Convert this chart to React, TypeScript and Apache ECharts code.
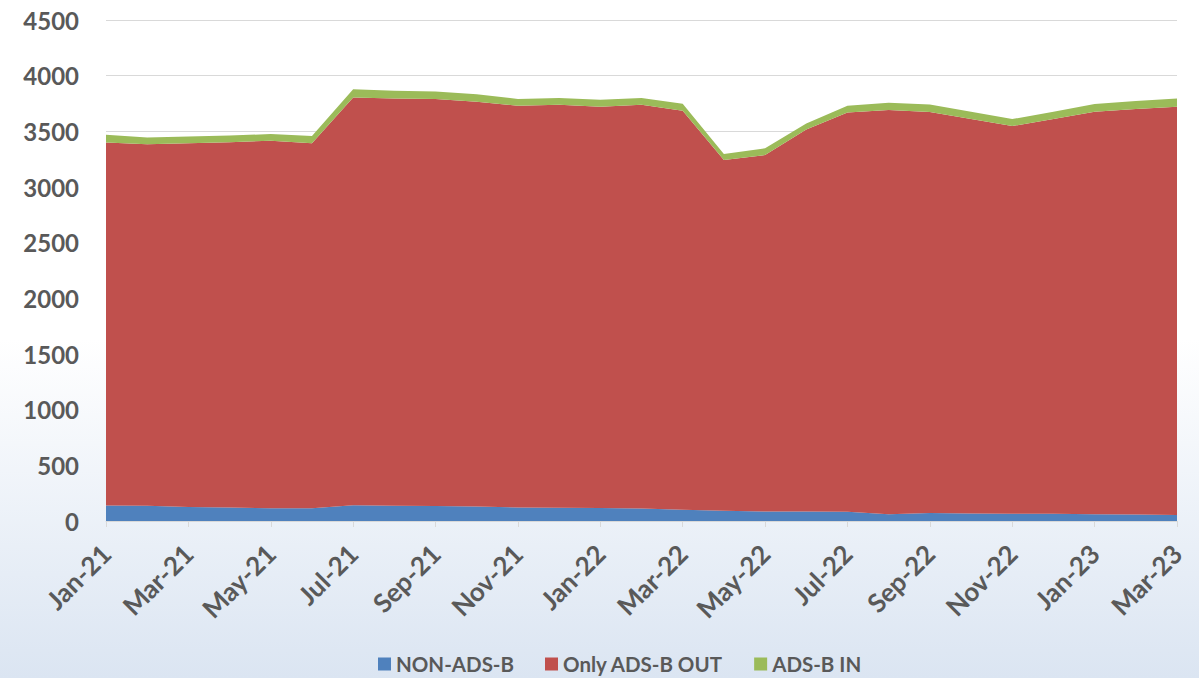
import React, { useEffect, useRef } from "react";
import * as echarts from "echarts";

const months = [
  "Jan-21","Feb-21","Mar-21","Apr-21","May-21","Jun-21","Jul-21","Aug-21","Sep-21","Oct-21","Nov-21","Dec-21",
  "Jan-22","Feb-22","Mar-22","Apr-22","May-22","Jun-22","Jul-22","Aug-22","Sep-22","Oct-22","Nov-22","Dec-22",
  "Jan-23","Feb-23","Mar-23",
];
const nonAdsb = [140,138,125,122,115,115,142,138,135,130,122,118,116,112,100,92,85,85,82,60,72,68,66,65,60,58,55];
const onlyOut = [3260,3245,3267,3281,3300,3277,3663,3658,3655,3635,3608,3621,3605,3627,3585,3150,3202,3432,3588,3631,3601,3542,3481,3545,3616,3642,3666];
const adsbIn = [69,62,62,60,60,65,72,68,68,69,60,60,63,60,63,54,60,54,60,66,69,66,63,66,69,72,75];

const FONT = "Lato, 'Open Sans', sans-serif";

export default function App() {
  const ref = useRef<HTMLDivElement>(null);
  useEffect(() => {
    if (!ref.current) return;
    const chart = echarts.init(ref.current, undefined, { renderer: "svg" });
    const mk = (name: string, data: number[], color: string) => ({
      name,
      type: "line",
      stack: "total",
      data,
      symbol: "none",
      lineStyle: { width: 0 },
      areaStyle: { color, opacity: 1 },
      itemStyle: { color },
    });
    chart.setOption({
      animation: false,
      backgroundColor: "transparent",
      textStyle: { fontFamily: FONT },
      grid: { left: 106, right: 22, top: 20, bottom: 157, containLabel: false },
      legend: {
        bottom: 2,
        left: 378,
        padding: 0,
        icon: "rect",
        itemWidth: 13,
        itemHeight: 13,
        itemGap: 31,
        textStyle: { fontSize: 20.5, fontWeight: "bold", color: "#595959", fontFamily: FONT, lineHeight: 24 },
        data: ["NON-ADS-B", "Only ADS-B OUT", "ADS-B IN"],
      },
      xAxis: {
        type: "category",
        data: months,
        boundaryGap: false,
        axisLine: { lineStyle: { color: "#d9d9d9", width: 1 } },
        axisTick: { interval: 1, length: 6, lineStyle: { color: "#d9d9d9" } },
        axisLabel: {
          interval: 1,
          rotate: 45,
          fontSize: 26,
          fontWeight: "bold",
          color: "#595959",
          margin: 28,
          fontFamily: FONT,
        },
      },
      yAxis: {
        type: "value",
        min: 0,
        max: 4500,
        interval: 500,
        axisLine: { show: false },
        axisTick: { show: false },
        splitLine: { lineStyle: { color: "#d9d9d9", width: 1 } },
        axisLabel: {
          fontSize: 24,
          fontWeight: "bold",
          color: "#595959",
          margin: 27,
          fontFamily: FONT,
          formatter: (v: number) => String(v),
        },
      },
      series: [
        mk("NON-ADS-B", nonAdsb, "#4f81bd"),
        mk("Only ADS-B OUT", onlyOut, "#c0504d"),
        mk("ADS-B IN", adsbIn, "#9bbb59"),
      ],
    });
    return () => chart.dispose();
  }, []);
  return (
    <div
      style={{
        position: "fixed",
        left: 0,
        top: 0,
        width: 1199,
        height: 678,
        background: "linear-gradient(to bottom, #ffffff 0%, #ffffff 50%, #dbe5f2 100%)",
      }}
    >
      <div ref={ref} style={{ width: 1199, height: 678 }} />
    </div>
  );
}
